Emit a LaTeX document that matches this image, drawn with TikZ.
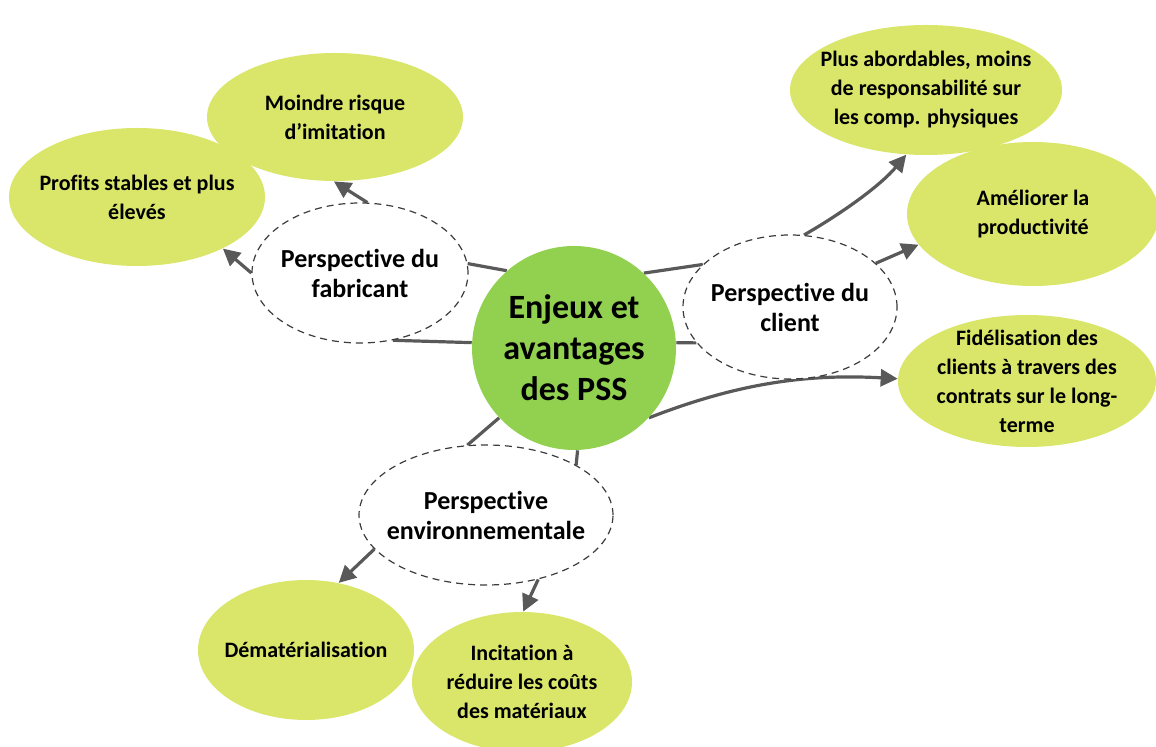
\documentclass[tikz,border=0pt]{standalone}
\usepackage{fontspec}
\setmainfont{Carlito}[RawFeature={-liga}]
\usetikzlibrary{shapes.geometric, arrows.meta, backgrounds}
\definecolor{hubgreen}{RGB}{146,208,80}
\definecolor{leafgreen}{RGB}{217,230,106}
\definecolor{linkgray}{RGB}{89,89,89}
\definecolor{dashgray}{RGB}{60,60,60}

\begin{document}
\begin{tikzpicture}[
  x=0.5pt, y=-0.5pt,
  hub/.style={circle, fill=hubgreen, minimum size=102pt, inner sep=0pt},
  persp/.style={ellipse, draw=dashgray, line width=0.6pt,
    dash pattern=on 3.5pt off 2.5pt, fill=white, inner sep=0pt},
  leaf/.style={ellipse, fill=leafgreen, inner sep=0pt},
  hubtext/.style={align=center, font=\fontsize{17}{20.5}\selectfont\bfseries},
  persptext/.style={align=center, font=\fontsize{13}{15}\selectfont\bfseries},
  leaftext/.style={align=center, font=\fontsize{11}{14.5}\selectfont\bfseries},
  conn/.style={draw=linkgray, line width=1.6pt},
  branch/.style={conn, -{Triangle[length=8.5pt, width=8.5pt]}}
]
  \useasboundingbox (0,0) rectangle (1156,747);

  % centre and the three perspectives
  \node[hub, label={[hubtext]center:{Enjeux et\\avantages\\des PSS}}] (pss) at (574,348) {};
  \node[persp, minimum width=108pt, minimum height=70pt,
    label={[persptext]center:{Perspective du\\fabricant}}] (fab) at (360,273) {};
  \node[persp, minimum width=107pt, minimum height=72pt,
    label={[persptext]center:{Perspective du\\client}}] (client) at (790,307) {};
  \node[persp, minimum width=127pt, minimum height=70pt,
    label={[persptext]center:{Perspective\\environnementale}}] (env) at (486,515) {};

  % leaves
  \node[leaf, minimum width=128pt, minimum height=69pt,
    label={[leaftext]center:{Profits stables et plus\\élevés}}] (prof) at (137,197) {};
  \node[leaf, minimum width=128pt, minimum height=64pt,
    label={[leaftext]center:{Moindre risque\\d’imitation}}] (moin) at (335,117) {};
  \node[leaf, minimum width=136pt, minimum height=65pt,
    label={[leaftext]center:{Plus abordables, moins\\de responsabilité sur\\les comp. physiques}}] (plus) at (926,90) {};
  \node[leaf, minimum width=126pt, minimum height=72pt,
    label={[leaftext]center:{Améliorer la\\productivité}}] (amel) at (1033,214) {};
  \node[leaf, minimum width=129pt, minimum height=66pt,
    label={[leaftext]center:{Fidélisation des\\clients à travers des\\contrats sur le long-\\terme}}] (fid) at (1027,381) {};
  \node[leaf, minimum width=108pt, minimum height=70pt,
    label={[leaftext]center:{Dématérialisation}}] (dem) at (306,650) {};
  \node[leaf, minimum width=110pt, minimum height=70pt,
    label={[leaftext]center:{Incitation à\\réduire les coûts\\des matériaux}}] (inc) at (522,682) {};

  \begin{scope}[on background layer]
    \draw[conn] (pss.131) -- (fab.5);
    \draw[conn] (pss.177) -- (fab.-64);
    \draw[conn] (pss.47) -- (client.154);
    \draw[conn] (pss.3) -- (client.201);
    \draw[conn] (pss.223) -- (env.105);
    \draw[conn] (pss.-88) -- (env.29);

    \draw[branch] (fab.180) -- (prof.-31);
    \draw[branch] (fab.84) -- (moin.-91);
    \draw[branch] (client.79) .. controls +(40,-23) and +(-25,30) .. (plus.-107);
    \draw[branch] (client.27) -- (amel.195);
    \draw[branch] (pss.-43) .. controls +(90,-35) and +(-90,-5) .. (fid.179);
    \draw[branch] (env.197) -- (dem.64);
    \draw[branch] (env.-51) -- (inc.89);
  \end{scope}
\end{tikzpicture}
\end{document}
